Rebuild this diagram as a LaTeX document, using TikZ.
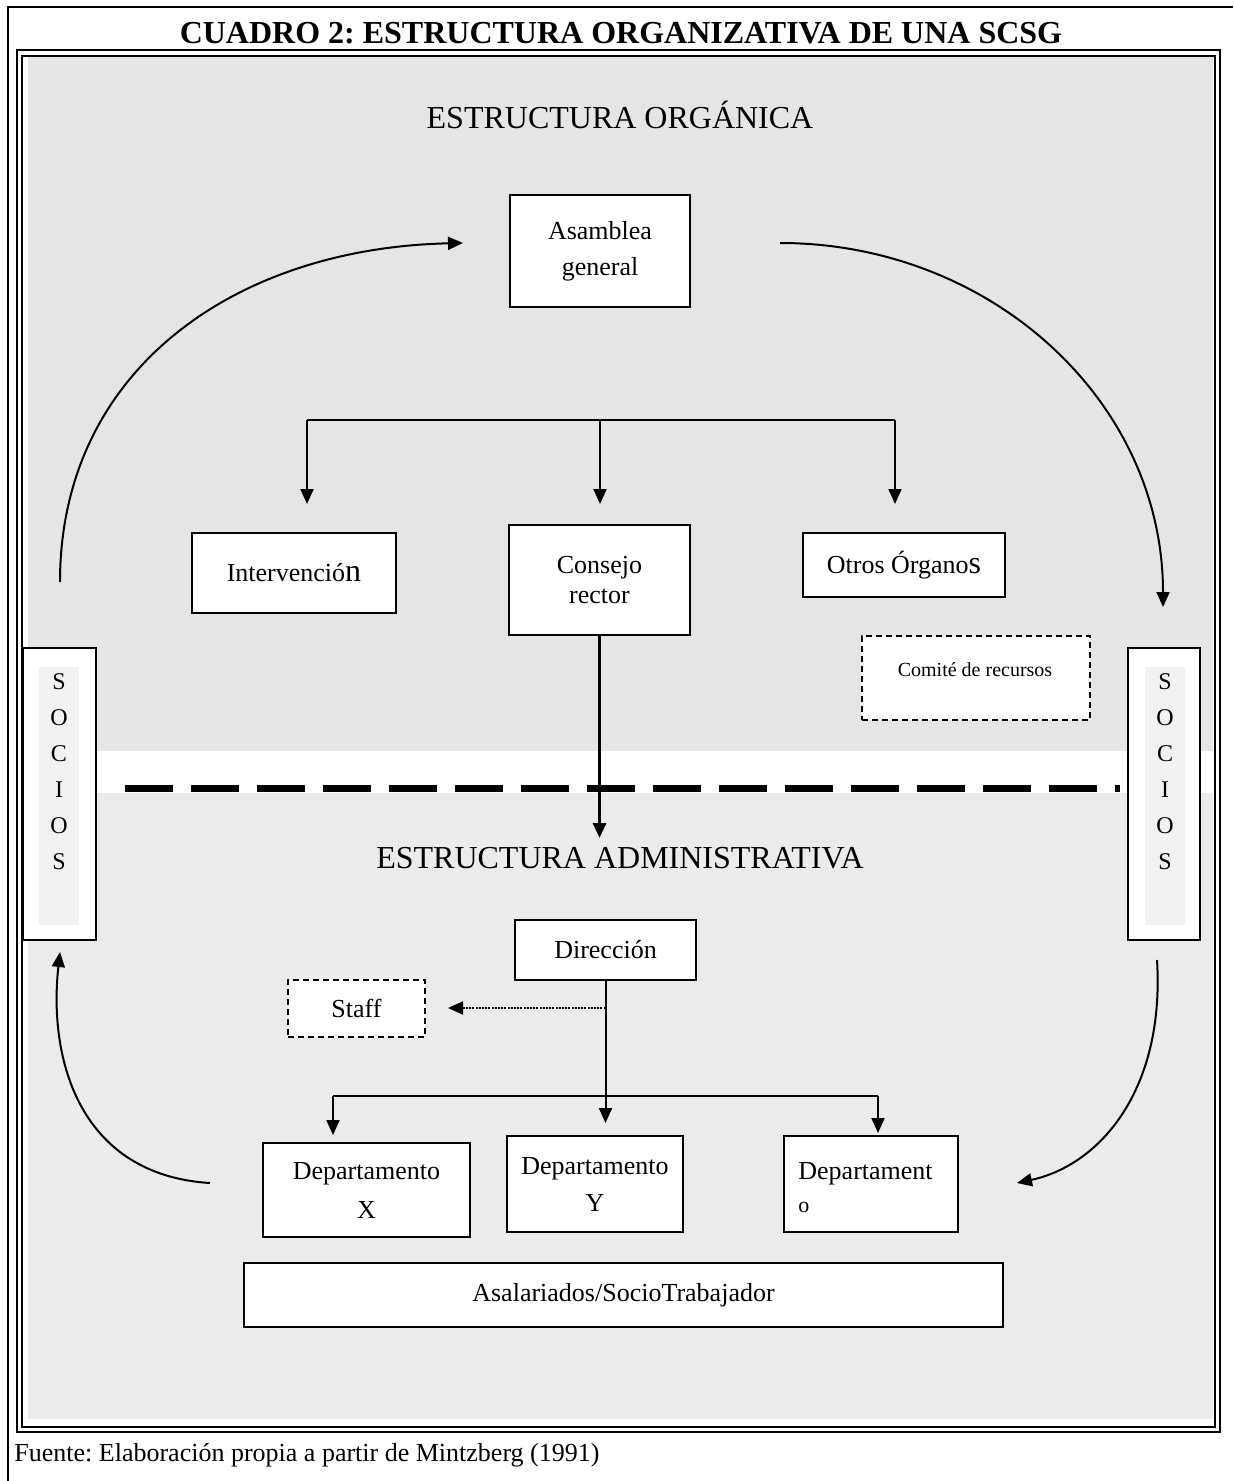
\documentclass[tikz,border=0pt]{standalone}
\usepackage{fontspec}
\setmainfont{Liberation Serif}
\usetikzlibrary{arrows.meta}
\definecolor{upg}{HTML}{E5E5E5}
\definecolor{lowg}{HTML}{EBEBEB}
\definecolor{stripg}{HTML}{F2F2F2}
\begin{document}
\frenchspacing
\begin{tikzpicture}[x=0.5pt,y=-0.5pt,
 box/.style={draw, fill=white, line width=0.8pt, inner sep=0pt, align=center, font=\fontsize{13}{15}\selectfont},
 dbox/.style={box, dash pattern=on 3pt off 2pt},
 txt/.style={inner sep=0pt, align=center, font=\fontsize{13}{15}\selectfont},
 head/.style={inner sep=0pt, font=\fontsize{16}{19}\selectfont},
 arr/.style={-{Triangle[length=7.5pt,width=6.5pt]}, line width=1pt},
 ln/.style={line width=1pt},
 frame/.style={line width=1pt},
]
\useasboundingbox (0,0) rectangle (1233,1481);
% backgrounds
\fill[upg] (28,57) rectangle (1213,751);
\fill[lowg] (28,793) rectangle (1213,1419);
% frames
\draw[frame] (7.5,1481) -- (7.5,7) -- (1233,7);
\draw[frame] (17,50) rectangle (1219.5,1432);
\draw[frame] (21.5,56) rectangle (1215,1427);

% titles
\node[inner sep=0pt, font=\fontsize{16}{19}\selectfont\bfseries] (title) at (621,33) {CUADRO 2: ESTRUCTURA ORGANIZATIVA DE UNA SCSG};
\node[head] (orgT) at (620,115) {ESTRUCTURA ORGÁNICA};
\node[head] (admT) at (620,858) {ESTRUCTURA ADMINISTRATIVA};
\node[txt, anchor=west] (fuente) at (14,1455) {Fuente: Elaboración propia a partir de Mintzberg (1991)};

% divider
\coordinate (dl) at (125,788);
\coordinate (dr) at (1120,788);
\draw[line width=3.5pt, dash pattern=on 24pt off 9pt] (dl) -- (dr);

% boxes upper
\node[box, minimum width=90pt, minimum height=56pt, font=\fontsize{13}{18}\selectfont] (asam) at (600,251) {Asamblea\\general};
\node[box, minimum width=102pt, minimum height=40pt] (inter) at (294,573) {Intervenció{\fontsize{16}{16}\selectfont n}};
\node[box, minimum width=90.5pt, minimum height=55pt] (cons) at (599.5,580) {Consejo\\rector};
\node[box, minimum width=101pt, minimum height=32pt] (otros) at (904,565) {Otros Órgano{\fontsize{16}{16}\selectfont s}};
\node[dbox, minimum width=114pt, minimum height=42pt] (comite) at (976,678) {};
\node[txt, font=\fontsize{10}{12}\selectfont] (comiteT) at (975,670) {Comité de recursos};

% socios
\node[box, minimum width=36.5pt, minimum height=146pt] (socL) at (59.5,794) {};
\fill[stripg] (39,667) rectangle (79,925);
\node[txt, font=\fontsize{12}{18}\selectfont] (socLt) at (59,772) {S\\O\\C\\I\\O\\S};
\node[box, minimum width=36pt, minimum height=146pt] (socR) at (1164,794) {};
\fill[stripg] (1145,667) rectangle (1185,925);
\node[txt, font=\fontsize{12}{18}\selectfont] (socRt) at (1165,772) {S\\O\\C\\I\\O\\S};

% lower boxes
\node[box, minimum width=90.5pt, minimum height=30pt] (dir) at (605.5,950) {Dirección};
\node[dbox, minimum width=68.5pt, minimum height=28.5pt] (staff) at (356.5,1008.5) {Staff};
\node[box, minimum width=103.5pt, minimum height=47pt, font=\fontsize{13}{19.5}\selectfont] (depX) at (366.5,1190) {Departamento\\X};
\node[box, minimum width=88pt, minimum height=48pt, font=\fontsize{13}{18.5}\selectfont] (depY) at (595,1184) {Departamento\\Y};
\node[box, minimum width=87pt, minimum height=48pt] (depO) at (871,1184) {};
\node[txt, anchor=west, align=left, font=\fontsize{13}{16.5}\selectfont] (depOt) at (798,1188) {Departament\\{\fontsize{11}{11}\selectfont o}};
\node[box, minimum width=379.5pt, minimum height=32pt] (asal) at (623.5,1295) {Asalariados/SocioTrabajador};

% upper tree
\coordinate (tl) at (307,420);
\coordinate (tc) at (600,420);
\coordinate (tr) at (895,420);
\coordinate (el) at (307,504);
\coordinate (ec) at (600,504);
\coordinate (er) at (895,504);
\draw[ln] (tl) -- (tr);
\draw[arr] (tl) -- (el);
\draw[arr] (tc) -- (ec);
\draw[arr] (tr) -- (er);

% consejo -> administrativa
\coordinate (admTop) at (599.5,838);
\draw[arr, line width=1.6pt] (cons.south) -- (admTop);

% direccion tree
\coordinate (dEnd) at (605.5,1123);
\draw[arr] (dir.south) -- (dEnd);
\coordinate (sb) at (605.5,1008);
\coordinate (sEnd) at (448,1008);
\draw[arr, dash pattern=on 1pt off 0.6pt] (sb) -- (sEnd);
\coordinate (bl) at (333,1096);
\coordinate (br) at (878,1096);
\coordinate (blE) at (333,1135);
\coordinate (brE) at (878,1133);
\draw[ln] (bl) -- (br);
\draw[arr] (bl) -- (blE);
\draw[arr] (br) -- (brE);

% arcs
\coordinate (a1s) at (60,582);
\coordinate (a1e) at (463,243);
\draw[arr] (a1s) .. controls (60,370) and (235,248) .. (a1e);
\coordinate (a2s) at (780,243);
\coordinate (a2e) at (1163,607);
\draw[arr] (a2s) .. controls (990,243) and (1163,400) .. (a2e);
\coordinate (a3s) at (210,1183);
\coordinate (a3e) at (60,952);
\draw[arr] (a3s) .. controls (80,1175) and (48,1060) .. (a3e);
\coordinate (a4s) at (1157,960);
\coordinate (a4e) at (1017,1183);
\draw[arr] (a4s) .. controls (1165,1090) and (1100,1165) .. (a4e);
\end{tikzpicture}
\end{document}
